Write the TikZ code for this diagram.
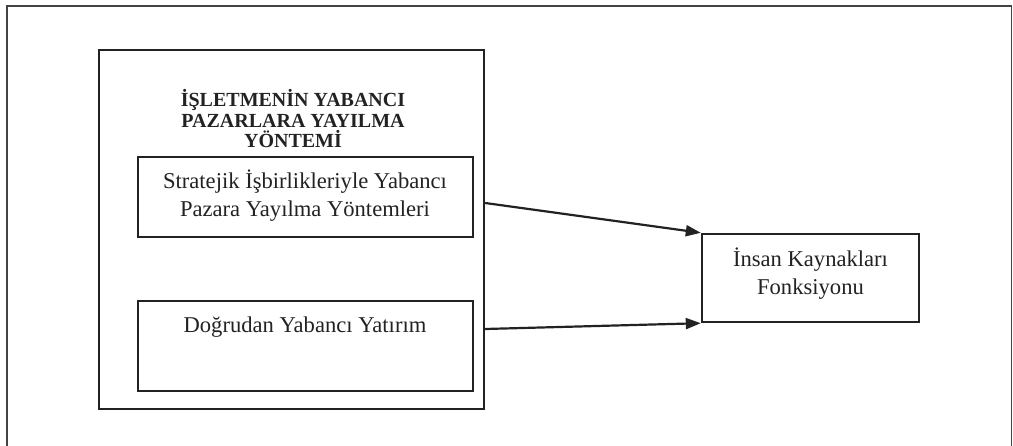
\documentclass[tikz,border=0pt]{standalone}
\usepackage{fontspec}
\setmainfont{Liberation Serif}
\usetikzlibrary{arrows.meta}
\definecolor{ink}{HTML}{222222}
\begin{document}
\begin{tikzpicture}[x=1pt,y=-1pt,
  boxline/.style={draw=ink,line width=2.4pt},
  bodytext/.style={font=\fontsize{22.6}{28}\selectfont,text=ink,align=center,inner sep=0pt},
  titletext/.style={font=\fontsize{20}{20.5}\selectfont\bfseries,text=ink,align=center,inner sep=0pt},
  conn/.style={draw=ink,line width=2.2pt,-{Triangle[length=15pt,width=11pt]}}]
\useasboundingbox (0,0) rectangle (1013,446);
% outer frame
\draw[draw=ink!85,line width=1.5pt] (7,6) rectangle (1011.5,452);
% big box
\node[boxline,minimum width=385pt,minimum height=359pt,inner sep=0pt] (big) at (291.5,229.5) {};
\node[titletext,anchor=base] (title) at (293,148) {İŞLETMENİN YABANCI\\PAZARLARA YAYILMA\\YÖNTEMİ};
% inner boxes
\node[boxline,minimum width=335pt,minimum height=80pt,inner sep=0pt] (strat) at (305.5,197) {};
\node[bodytext,anchor=base] (strattext) at (305,217) {Stratejik İşbirlikleriyle Yabancı\\Pazara Yayılma Yöntemleri};
\node[boxline,minimum width=335pt,minimum height=90pt,inner sep=0pt] (dyy) at (305.5,346) {};
\node[bodytext,anchor=base] (dyytext) at (305,333) {Doğrudan Yabancı Yatırım};
% right box
\node[boxline,minimum width=217pt,minimum height=88pt,inner sep=0pt] (ik) at (810.5,278) {};
\node[bodytext,anchor=base] (iktext) at (810.5,295) {İnsan Kaynakları\\Fonksiyonu};
% connectors
\coordinate (a1) at (big.east |- 0,203);
\coordinate (a2) at (big.east |- 0,329);
\draw[conn] (a1) -- (ik.north west);
\draw[conn] (a2) -- (ik.south west);
\end{tikzpicture}
\end{document}
